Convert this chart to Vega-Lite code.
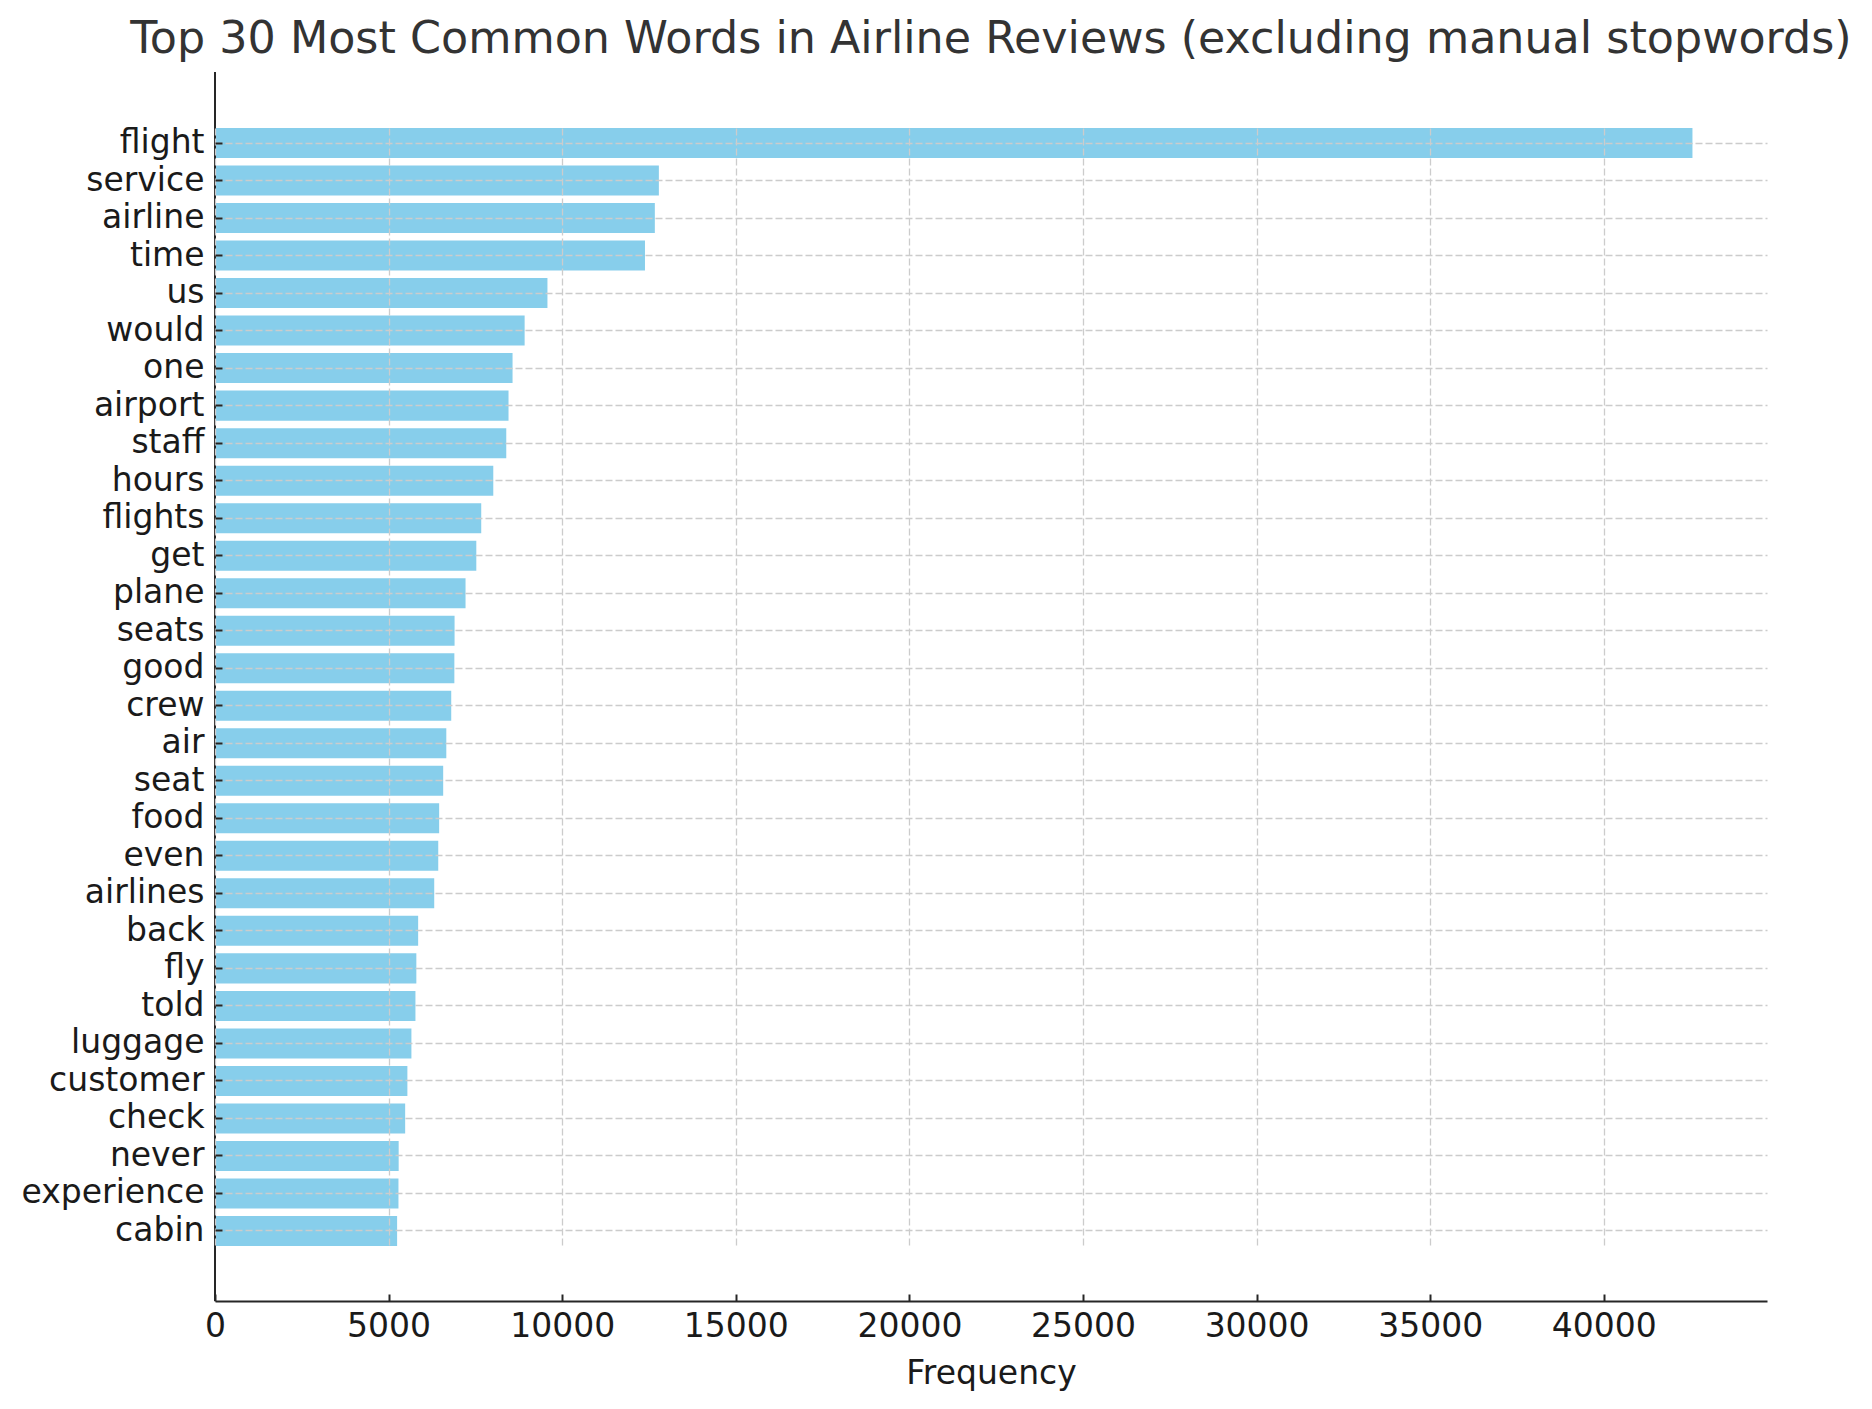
{
  "$schema": "https://vega.github.io/schema/vega-lite/v6.json",
  "width": 1552,
  "height": 1229,
  "autosize": "none",
  "padding": {"left": 215, "top": 72, "right": 105, "bottom": 108},
  "background": "white",
  "title": {
    "text": "Top 30 Most Common Words in Airline Reviews (excluding manual stopwords)",
    "font": "DejaVu Sans",
    "fontSize": 44.4,
    "fontWeight": "normal",
    "color": "#333333",
    "anchor": "middle",
    "baseline": "alphabetic",
    "offset": -26
  },
  "data": {
    "values": [
      {"word": "flight", "frequency": 42553},
      {"word": "service", "frequency": 12784},
      {"word": "airline", "frequency": 12668},
      {"word": "time", "frequency": 12384},
      {"word": "us", "frequency": 9575},
      {"word": "would", "frequency": 8918},
      {"word": "one", "frequency": 8570},
      {"word": "airport", "frequency": 8454},
      {"word": "staff", "frequency": 8389},
      {"word": "hours", "frequency": 8015},
      {"word": "flights", "frequency": 7668},
      {"word": "get", "frequency": 7526},
      {"word": "plane", "frequency": 7216},
      {"word": "seats", "frequency": 6900},
      {"word": "good", "frequency": 6894},
      {"word": "crew", "frequency": 6804},
      {"word": "air", "frequency": 6662},
      {"word": "seat", "frequency": 6572},
      {"word": "food", "frequency": 6456},
      {"word": "even", "frequency": 6430},
      {"word": "airlines", "frequency": 6314},
      {"word": "back", "frequency": 5851},
      {"word": "fly", "frequency": 5799},
      {"word": "told", "frequency": 5773},
      {"word": "luggage", "frequency": 5657},
      {"word": "customer", "frequency": 5541},
      {"word": "check", "frequency": 5477},
      {"word": "never", "frequency": 5290},
      {"word": "experience", "frequency": 5284},
      {"word": "cabin", "frequency": 5245}
    ]
  },
  "layer": [
    {
      "mark": {"type": "bar", "color": "#87CEEB"},
      "encoding": {
        "y": {
          "field": "word",
          "type": "nominal",
          "sort": null,
          "scale": {"paddingInner": 0.2, "paddingOuter": 0, "range": [56, 1174]},
          "axis": {
            "title": null,
            "zindex": 1,
            "grid": true,
            "gridColor": "#cccccc",
            "gridDash": [7, 3],
            "gridWidth": 1.3,
            "domain": false,
            "tickColor": "#262626",
            "tickSize": -7,
            "tickWidth": 2,
            "labelFont": "DejaVu Sans",
            "labelFontSize": 33,
            "labelColor": "#1a1a1a",
            "labelPadding": 18,
            "labelLimit": 0
          }
        },
        "x": {
          "field": "frequency",
          "type": "quantitative",
          "scale": {"domain": [0, 44700], "nice": false, "zero": true},
          "axis": {
            "title": "Frequency",
            "values": [0, 5000, 10000, 15000, 20000, 25000, 30000, 35000, 40000],
            "format": "d",
            "zindex": 1,
            "grid": true,
            "gridColor": "#cccccc",
            "gridDash": [7, 3],
            "gridWidth": 1.3,
            "domainColor": "#262626",
            "domainWidth": 2,
            "tickColor": "#262626",
            "tickSize": -7,
            "tickWidth": 2,
            "labelFont": "DejaVu Sans",
            "labelFontSize": 33,
            "labelColor": "#1a1a1a",
            "labelPadding": 16,
            "labelFlush": false,
            "titleFont": "DejaVu Sans",
            "titleFontSize": 33,
            "titleFontWeight": "normal",
            "titleColor": "#1a1a1a",
            "titlePadding": 14
          }
        }
      }
    },
    {
      "mark": {"type": "rule", "color": "#262626", "strokeWidth": 2},
      "encoding": {"x": {"datum": 0}}
    }
  ],
  "config": {"view": {"stroke": null}}
}
